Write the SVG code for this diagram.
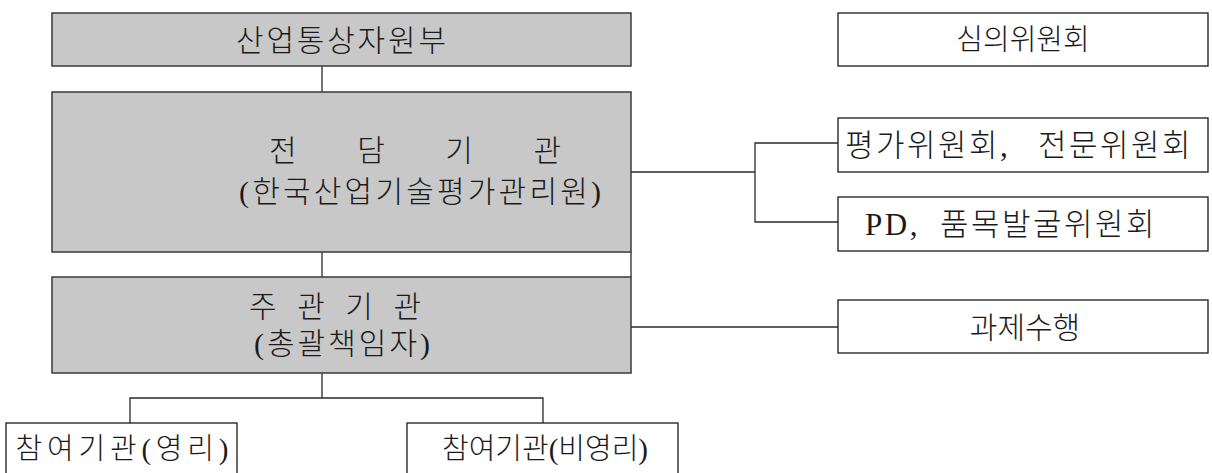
<svg xmlns="http://www.w3.org/2000/svg" width="1212" height="473" viewBox="0 0 1212 473">
<style>
.g{fill:#c8c8c8;stroke:#3a3a3a;stroke-width:1.5}
.w{fill:#ffffff;stroke:#1a1a1a;stroke-width:1.3}
.c{fill:none;stroke:#2a2a2a;stroke-width:1.3}
text{font-family:"Liberation Serif","Noto Sans CJK KR",serif;font-size:30px;font-weight:300;fill:#1a1a1a;text-anchor:middle;dominant-baseline:central}
.r{font-size:29px}
.s{font-size:31px;text-anchor:start;letter-spacing:2.5px}
</style>
<rect width="1212" height="473" fill="#ffffff"/>
<g id="connectors">
<line class="c" x1="322" y1="66" x2="322" y2="92"/>
<line class="c" x1="322" y1="252" x2="322" y2="277"/>
<line class="c" x1="631" y1="252" x2="631" y2="277"/>
<line class="c" x1="322" y1="373" x2="322" y2="398"/>
<polyline class="c" points="130,423 130,398 543,398 543,423"/>
<line class="c" x1="631" y1="172" x2="755" y2="172"/>
<polyline class="c" points="838,143 755,143 755,222 838,222"/>
<line class="c" x1="631" y1="327" x2="838" y2="327"/>
</g>
<g id="motie">
<rect class="g" x="52" y="13" width="579" height="53"/>
<text x="341" y="40" textLength="210" lengthAdjust="spacing">산업통상자원부</text>
</g>
<g id="keit">
<rect class="g" x="52" y="92" width="579" height="160"/>
<text x="415" y="150" textLength="292" lengthAdjust="spacing" xml:space="preserve">전 담 기 관</text>
<text x="420" y="191" textLength="362" lengthAdjust="spacing">(한국산업기술평가관리원)</text>
</g>
<g id="lead">
<rect class="g" x="52" y="277" width="579" height="96"/>
<text x="335" y="306" textLength="172" lengthAdjust="spacing" xml:space="preserve">주 관 기 관</text>
<text x="342" y="343" textLength="176" lengthAdjust="spacing">(총괄책임자)</text>
</g>
<g id="council">
<rect class="w" x="838" y="13" width="370" height="53"/>
<text class="r" x="1023" y="40">심의위원회</text>
</g>
<g id="eval">
<rect class="w" x="838" y="118" width="370" height="54"/>
<text class="s" y="145" xml:space="preserve"><tspan x="845">평가위원회, </tspan><tspan x="1038">전문위원회</tspan></text>
</g>
<g id="pd">
<rect class="w" x="838" y="197" width="370" height="54"/>
<text class="s" y="224" xml:space="preserve"><tspan x="865">PD, </tspan><tspan x="940">품목발굴위원회</tspan></text>
</g>
<g id="task">
<rect class="w" x="838" y="300" width="370" height="53"/>
<text x="1025" y="327">과제수행</text>
</g>
<g id="profit">
<rect class="w" x="6" y="423" width="231" height="60"/>
<text class="r" x="122" y="449" textLength="213" lengthAdjust="spacing">참여기관(영리)</text>
</g>
<g id="nonprofit">
<rect class="w" x="407" y="423" width="271" height="60"/>
<text class="r" x="545" y="449">참여기관(비영리)</text>
</g>
</svg>
